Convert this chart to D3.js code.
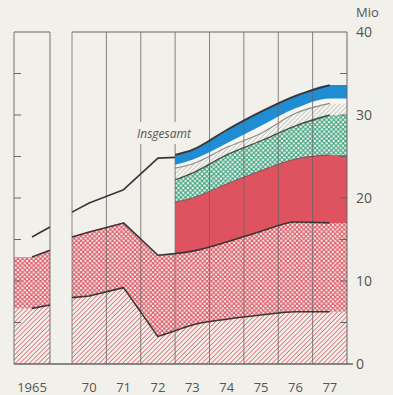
<!DOCTYPE html>
<html><head><meta charset="utf-8">
<script src="https://cdn.jsdelivr.net/npm/d3@7"></script>
<style>
html,body{margin:0;padding:0;background:#f2f0ea;}
svg{display:block;}
text{font-family:"Open Sans","Noto Sans",sans-serif;fill:#555;}
</style></head><body>
<svg id="c" width="393" height="395"></svg>
<script>
// ---- tick labels ----
const xLabels = ["1965","70","71","72","73","74","75","76","77"];
const xLabelYears = [1965,1970,1971,1972,1973,1974,1975,1976,1977];
const yTickValues = [0,10,20,30,40];
const yMinorTicks = [5,10,15,20,25,30,35];

// ---- 1965 panel (Mio) ----
const leftYears = [1965, 1965.5];
const leftHatch = [6.7, 7.1];
const leftCross = [6.2, 6.6];
const leftTotal = [15.3, 16.5];

// ---- 1970-1972 (Mio) ----
const preYears = [1969.5, 1970, 1971, 1972, 1972.5];
const preHatch = [8.0, 8.2, 9.2, 3.3, 4.0];
const preCross = [7.3, 7.7, 7.8, 9.8, 9.3];
const preTotal = [18.3, 19.4, 21.0, 24.8, 24.9];

// ---- 1973-1977 (Mio) ----
const postYears = [1972.5, 1973, 1974, 1975, 1976, 1977];
const postHatch = [4.0, 4.7, 5.4, 5.9, 6.3, 6.3];
const postCross = [9.3, 8.9, 9.3, 10.1, 10.8, 10.7];
const postRed   = [6.2, 6.4, 7.0, 7.3, 7.6, 8.2];
const postGreen = [2.7, 3.0, 3.5, 3.6, 4.0, 4.8];
const postGrey  = [1.4, 1.1, 0.9, 0.9, 1.5, 1.4];
const postWhite = [0.4, 0.5, 0.5, 0.9, 0.6, 0.6];
const postBlue  = [1.2, 1.2, 1.6, 1.7, 1.5, 1.6];

const BG = "#f2f0ea";
const svg = d3.select("#c");
const defs = svg.append("defs");

function hatch(id, color, bg, s, w){
  const p = defs.append("pattern").attr("id",id).attr("patternUnits","userSpaceOnUse")
    .attr("width",s).attr("height",s).attr("patternTransform","rotate(45)");
  p.append("rect").attr("width",s).attr("height",s).attr("fill",bg);
  p.append("line").attr("x1",0).attr("y1",0).attr("x2",0).attr("y2",s)
    .attr("stroke",color).attr("stroke-width",w);
}
function dots(id, color, s, r){
  const p = defs.append("pattern").attr("id",id).attr("patternUnits","userSpaceOnUse")
    .attr("width",s).attr("height",s);
  p.append("rect").attr("width",s).attr("height",s).attr("fill",color);
  [[0,0],[s,0],[0,s],[s,s],[s/2,s/2]].forEach(([cx,cy])=>
    p.append("circle").attr("cx",cx).attr("cy",cy).attr("r",r).attr("fill","#f7f3ee"));
}
hatch("pHatch","#de6874",BG,3.3,1.6);
dots("pCross","#df5a68",4.5,1.18);
dots("pGreen","#3fa886",4.7,1.25);
hatch("pGrey","#aab7ae","#f5f3ee",3.2,1.2);

const y = d3.scaleLinear().domain([0,40]).range([364,32]);
const xL = d3.scaleLinear().domain([1964.5,1965.5]).range([14,50]);
const xM = d3.scaleLinear().domain([1969.5,1977.5]).range([72,347]);

function stackRows(years, arrs, keys){
  const rows = years.map((yr,i)=>{const o={yr}; keys.forEach((k,j)=>o[k]=arrs[j][i]); return o;});
  return d3.stack().keys(keys)(rows);
}

const leftKeys=["hatch","cross"];
const leftStack = stackRows(leftYears,[leftHatch,leftCross],leftKeys);
const preStack = stackRows(preYears,[preHatch,preCross],leftKeys);
const postKeys=["hatch","cross","red","green","grey","white","blue"];
const postStack = stackRows(postYears,[postHatch,postCross,postRed,postGreen,postGrey,postWhite,postBlue],postKeys);

const fills = {hatch:"url(#pHatch)",cross:"url(#pCross)",red:"#df5260",green:"url(#pGreen)",grey:"url(#pGrey)",white:"#f7f5f0",blue:"#1f8dd3"};

const gA = svg.append("g");
leftStack.forEach(s=>{
  const pts = [[1964.5,s[0][0],s[0][1]], ...s.map(d=>[d.data.yr,d[0],d[1]])];
  gA.append("path").attr("fill",fills[s.key])
    .attr("d", d3.area().x(d=>xL(d[0])).y0(d=>y(d[1])).y1(d=>y(d[2]))(pts));
});
preStack.forEach(s=>{
  const pts = s.map(d=>[d.data.yr,d[0],d[1]]);
  gA.append("path").attr("fill",fills[s.key])
    .attr("d", d3.area().x(d=>xM(d[0])).y0(d=>y(d[1])).y1(d=>y(d[2]))(pts));
});
postStack.forEach(s=>{
  const last = s[s.length-1];
  const pts = [...s.map(d=>[d.data.yr,d[0],d[1]]), [1977.5,last[0],last[1]]];
  gA.append("path").attr("fill",fills[s.key])
    .attr("d", d3.area().curve(d3.curveMonotoneX).x(d=>xM(d[0])).y0(d=>y(d[1])).y1(d=>y(d[2]))(pts));
});

// grid / frame
const gG = svg.append("g").attr("stroke","#666").attr("stroke-width",1).attr("fill","none");
[1964.5,1965.5].forEach(v=>gG.append("line").attr("x1",xL(v)).attr("x2",xL(v)).attr("y1",y(40)).attr("y2",y(0)).attr("stroke-opacity",0.9));
d3.range(1969.5,1978,1).forEach(v=>gG.append("line").attr("x1",xM(v)).attr("x2",xM(v)).attr("y1",y(40)).attr("y2",y(0)).attr("stroke-opacity",v===1977.5?1:0.8));
gG.append("line").attr("x1",xL(1964.5)).attr("x2",xL(1965.5)).attr("y1",y(40)).attr("y2",y(40));
gG.append("line").attr("x1",xM(1969.5)).attr("x2",xM(1977.5)).attr("y1",y(40)).attr("y2",y(40));
gG.append("line").attr("x1",xL(1964.5)).attr("x2",xM(1977.5)+6).attr("y1",y(0)).attr("y2",y(0)).attr("stroke-width",1.3);
yMinorTicks.forEach(v=>{
  gG.append("line").attr("x1",xL(1964.5)).attr("x2",xL(1964.5)+7).attr("y1",y(v)).attr("y2",y(v));
  gG.append("line").attr("x1",xM(1977.5)-7).attr("x2",xM(1977.5)).attr("y1",y(v)).attr("y2",y(v));
});

// boundary lines
const gL = svg.append("g").attr("fill","none").attr("stroke-linejoin","round");
function drawLine(years, vals, x, curve, color, w){
  const pts = years.map((yr,i)=>[yr,vals[i]]);
  gL.append("path").attr("stroke",color).attr("stroke-width",w)
    .attr("d", d3.line().curve(curve).x(d=>x(d[0])).y(d=>y(d[1]))(pts));
}
function topOf(stack, k){ return stack.find(s=>s.key===k).map(d=>d[1]); }
const dark="#3a3434";
drawLine(leftYears, topOf(leftStack,"hatch"), xL, d3.curveLinear, dark, 1.6);
drawLine(leftYears, topOf(leftStack,"cross"), xL, d3.curveLinear, dark, 1.6);
drawLine(leftYears, leftTotal, xL, d3.curveLinear, dark, 1.6);
drawLine(preYears, topOf(preStack,"hatch"), xM, d3.curveLinear, dark, 1.6);
drawLine(preYears, topOf(preStack,"cross"), xM, d3.curveLinear, dark, 1.6);
drawLine(preYears, preTotal, xM, d3.curveLinear, dark, 1.6);
drawLine(postYears, topOf(postStack,"hatch"), xM, d3.curveMonotoneX, dark, 1.6);
drawLine(postYears, topOf(postStack,"cross"), xM, d3.curveMonotoneX, dark, 1.6);
drawLine(postYears, topOf(postStack,"red"), xM, d3.curveMonotoneX, "#7a3a3e", 0.8);
drawLine(postYears, topOf(postStack,"green"), xM, d3.curveMonotoneX, "#4a4a48", 1.3);
drawLine(postYears, topOf(postStack,"grey"), xM, d3.curveMonotoneX, "#8a8a86", 1.1);
drawLine(postYears, topOf(postStack,"blue"), xM, d3.curveMonotoneX, dark, 1.8);

// Insgesamt label
svg.append("rect").attr("x",134).attr("y",122).attr("width",66).attr("height",22).attr("fill",BG);
svg.append("text").attr("x",137).attr("y",138).attr("font-style","italic").attr("font-size",12).text("Insgesamt");

// y labels
yTickValues.forEach(v=>svg.append("text").attr("x",356).attr("y",y(v)).attr("dy","0.36em").attr("font-size",14).text(v));
svg.append("text").attr("x",356).attr("y",17).attr("font-size",13).text("Mio");

// x labels
xLabels.forEach((t,i)=>{
  const yr = xLabelYears[i];
  const x = yr===1965 ? xL(yr) : xM(yr);
  svg.append("text").attr("x",x).attr("y",392).attr("text-anchor","middle").attr("font-size",13).text(t);
});
</script>
</body></html>
